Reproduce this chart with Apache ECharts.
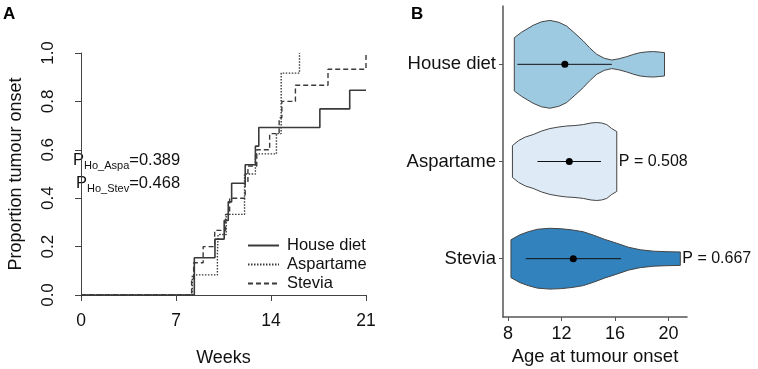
<!DOCTYPE html>
<html>
<head>
<meta charset="utf-8">
<script src="https://cdn.jsdelivr.net/npm/echarts@6/dist/echarts.min.js"></script>
<style>
  html, body { margin: 0; padding: 0; background: #fff; }
  #main { width: 758px; height: 369px; }
</style>
</head>
<body>
<div id="main"></div>
<script>
// Panel A: cumulative tumour onset (weeks)
const seriesNames = ['House diet', 'Aspartame', 'Stevia']
const houseWeeks = [0, 8.35, 9.87, 10.55, 10.85, 11.1, 12.1, 12.85, 13.1, 17.6, 19.8, 21]
const houseProp = [0, 0.154, 0.231, 0.308, 0.385, 0.462, 0.538, 0.615, 0.692, 0.769, 0.846, 0.846]
const aspaWeeks = [0, 8.2, 10.05, 10.1, 10.7, 12.05, 12.85, 14.4, 14.75, 16.1]
const aspaProp = [0, 0.083, 0.167, 0.25, 0.333, 0.5, 0.583, 0.667, 0.917, 1.0]
const stevWeeks = [0, 8.15, 8.3, 9.0, 9.85, 10.65, 10.95, 12.1, 12.3, 12.95, 13.9, 14.6, 14.8, 15.8, 18.2, 21]
const stevProp = [0, 0.067, 0.133, 0.2, 0.267, 0.333, 0.4, 0.467, 0.533, 0.6, 0.667, 0.733, 0.8, 0.867, 0.933, 1.0]

// Panel B: violins of age at tumour onset
const groups = ['House diet', 'Aspartame', 'Stevia']
const groupColors = ['#9ECAE1', '#DEEBF7', '#3182BD']
const violinAge = [
  [8.47, 9.0, 9.88, 10.5, 11.13, 11.8, 12.38, 13.0, 13.63, 14.1, 14.63, 15.2, 15.76, 16.3, 16.88, 17.4, 17.88, 18.4, 18.88, 19.3, 19.7],
  [8.33, 8.8, 9.3, 9.88, 10.5, 11.13, 11.8, 12.38, 13.0, 13.63, 14.2, 14.63, 15.0, 15.38, 15.75, 16.13],
  [8.22, 8.9, 9.5, 10.2, 11.13, 12.0, 12.8, 13.63, 14.4, 15.2, 16.13, 17.0, 17.88, 18.9, 19.88, 20.88]
]
// half width of each violin, in category units
const violinHalf = [
  [0.274, 0.329, 0.401, 0.437, 0.452, 0.432, 0.394, 0.319, 0.239, 0.170, 0.103, 0.062, 0.044, 0.057, 0.079, 0.103, 0.120, 0.128, 0.131, 0.126, 0.120],
  [0.164, 0.216, 0.252, 0.277, 0.313, 0.339, 0.355, 0.365, 0.370, 0.380, 0.396, 0.401, 0.396, 0.380, 0.339, 0.308],
  [0.195, 0.247, 0.277, 0.303, 0.313, 0.308, 0.296, 0.277, 0.242, 0.200, 0.159, 0.118, 0.092, 0.077, 0.072, 0.069]
]
const meanAge = [12.25, 12.58, 12.88]
const lowAge = [8.7, 10.2, 9.33]
const highAge = [15.76, 14.95, 16.45]
const pLabels = ['', 'P = 0.508', 'P = 0.667']
const ageTicks = [8, 12, 16, 20]

const FONT = "'Liberation Sans', Arial, sans-serif"
const lineColor = '#3a3a3a'

function pairs(xs, ys) {
  return xs.map((x, i) => [x, ys[i]])
}

const chart = echarts.init(document.getElementById('main'))

function renderViolin(params, api) {
  const i = params.dataIndex
  const cat = i + 1
  const ages = violinAge[i]
  const half = violinHalf[i]
  const top = ages.map((a, k) => api.coord([a, cat - half[k]]))
  const bottom = ages.map((a, k) => api.coord([a, cat + half[k]])).reverse()
  const lo = api.coord([lowAge[i], cat])
  const hi = api.coord([highAge[i], cat])
  const mid = api.coord([meanAge[i], cat])
  const right = api.coord([ages[ages.length - 1], cat])
  const children = [
    {
      type: 'polygon',
      shape: { points: top.concat(bottom) },
      style: { fill: groupColors[i], stroke: '#444', lineWidth: 1 }
    },
    {
      type: 'line',
      shape: { x1: lo[0], y1: lo[1], x2: hi[0], y2: hi[1] },
      style: { stroke: '#111', lineWidth: 1 }
    },
    {
      type: 'circle',
      shape: { cx: mid[0], cy: mid[1], r: 3.5 },
      style: { fill: '#000' }
    }
  ]
  if (pLabels[i]) {
    children.push({
      type: 'text',
      style: {
        text: pLabels[i],
        x: right[0] + 2,
        y: right[1],
        fill: '#111',
        fontSize: 16,
        fontFamily: FONT,
        align: 'left',
        verticalAlign: 'middle'
      }
    })
  }
  return { type: 'group', children: children }
}

const option = {
  animation: false,
  textStyle: { fontFamily: FONT },
  graphic: [
    {
      type: 'text', left: 3, top: 6,
      style: { text: 'A', fontSize: 17, fontWeight: 'bold', fill: '#000', fontFamily: FONT }
    },
    {
      type: 'text', left: 411, top: 6,
      style: { text: 'B', fontSize: 17, fontWeight: 'bold', fill: '#000', fontFamily: FONT }
    },
    {
      type: 'text', left: 73, top: 152,
      style: {
        text: '{m|P}{s|Ho_Aspa}{m|=0.389}',
        fontFamily: FONT,
        rich: {
          m: { fontSize: 16.5, fill: '#111', fontFamily: FONT, verticalAlign: 'bottom', padding: [0, 0, 2, 0] },
          s: { fontSize: 11, fill: '#111', fontFamily: FONT, verticalAlign: 'bottom' }
        }
      }
    },
    {
      type: 'text', left: 76, top: 175,
      style: {
        text: '{m|P}{s|Ho_Stev}{m|=0.468}',
        fontFamily: FONT,
        rich: {
          m: { fontSize: 16.5, fill: '#111', fontFamily: FONT, verticalAlign: 'bottom', padding: [0, 0, 2, 0] },
          s: { fontSize: 11, fill: '#111', fontFamily: FONT, verticalAlign: 'bottom' }
        }
      }
    }
  ],
  legend: {
    data: seriesNames,
    orient: 'vertical',
    left: 242,
    top: 232,
    itemWidth: 31,
    itemHeight: 14,
    itemGap: 2,
    itemStyle: { opacity: 0 },
    textStyle: { fontSize: 16.5, color: '#111', padding: [0, 0, 0, 3], fontFamily: FONT },
    selectedMode: false
  },
  grid: [
    { left: 81, top: 53, width: 285, height: 242, outerBoundsMode: 'none' },
    { left: 503, top: 6, width: 184, height: 311, outerBoundsMode: 'none' }
  ],
  xAxis: [
    {
      gridIndex: 0,
      type: 'value',
      min: 0,
      max: 21,
      interval: 7,
      offset: 9,
      name: 'Weeks',
      nameLocation: 'middle',
      nameGap: 45,
      nameTextStyle: { fontSize: 18, color: '#111' },
      axisLine: { show: true, lineStyle: { color: '#444', width: 1 } },
      axisTick: { show: true, length: 6, lineStyle: { color: '#444' } },
      axisLabel: { fontSize: 17.5, color: '#111', margin: 8 },
      splitLine: { show: false }
    },
    {
      gridIndex: 1,
      type: 'value',
      min: 7.625,
      max: 21.38,
      name: 'Age at tumour onset',
      nameLocation: 'middle',
      nameGap: 20,
      nameTextStyle: { fontSize: 18.5, color: '#111' },
      axisLine: { show: true, lineStyle: { color: '#555', width: 1.5 } },
      axisTick: { show: true, length: 4, customValues: ageTicks, lineStyle: { color: '#555' } },
      axisLabel: { fontSize: 18, color: '#111', margin: 8, customValues: ageTicks },
      splitLine: { show: false }
    }
  ],
  yAxis: [
    {
      gridIndex: 0,
      type: 'value',
      min: 0,
      max: 1,
      interval: 0.2,
      offset: 13,
      name: 'Proportion tumour onset',
      nameLocation: 'middle',
      nameGap: 43,
      nameTextStyle: { fontSize: 18, color: '#111' },
      axisLine: { show: true, lineStyle: { color: '#444', width: 1 } },
      axisTick: { show: true, length: 6, lineStyle: { color: '#444' } },
      axisLabel: { fontSize: 17, color: '#111', rotate: 90, margin: 11, formatter: v => v.toFixed(1) },
      splitLine: { show: false }
    },
    {
      gridIndex: 1,
      type: 'value',
      min: 0.4,
      max: 3.6,
      inverse: true,
      axisLine: { show: true, lineStyle: { color: '#555', width: 1.5 } },
      axisTick: { show: true, length: 4, customValues: [1, 2, 3], lineStyle: { color: '#555' } },
      axisLabel: {
        fontSize: 18.5,
        color: '#111',
        margin: 7,
        customValues: [1, 2, 3],
        formatter: v => groups[Math.round(v) - 1] || ''
      },
      splitLine: { show: false }
    }
  ],
  series: [
    {
      name: 'House diet',
      type: 'line',
      step: 'end',
      symbol: 'none',
      xAxisIndex: 0,
      yAxisIndex: 0,
      color: lineColor,
      lineStyle: { color: lineColor, width: 1.6, type: 'solid' },
      data: pairs(houseWeeks, houseProp)
    },
    {
      name: 'Aspartame',
      type: 'line',
      step: 'end',
      symbol: 'none',
      xAxisIndex: 0,
      yAxisIndex: 0,
      color: lineColor,
      lineStyle: { color: lineColor, width: 1.4, type: [1.5, 1.5] },
      data: pairs(aspaWeeks, aspaProp)
    },
    {
      name: 'Stevia',
      type: 'line',
      step: 'end',
      symbol: 'none',
      xAxisIndex: 0,
      yAxisIndex: 0,
      color: lineColor,
      lineStyle: { color: lineColor, width: 1.4, type: [5, 3] },
      data: pairs(stevWeeks, stevProp)
    },
    {
      name: 'violins',
      type: 'custom',
      xAxisIndex: 1,
      yAxisIndex: 1,
      renderItem: renderViolin,
      clip: false,
      data: groups.map((g, i) => [meanAge[i], i + 1])
    }
  ]
}

chart.setOption(option)
</script>
</body>
</html>
